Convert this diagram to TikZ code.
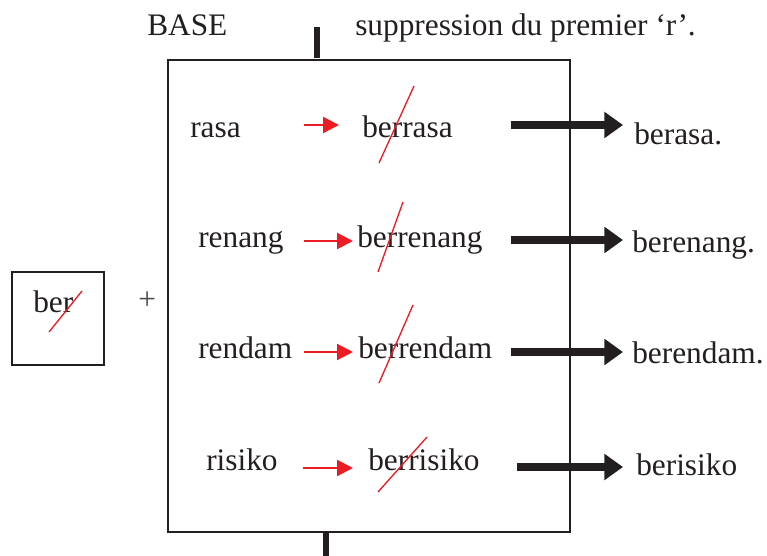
\documentclass[tikz,border=0pt]{standalone}
\usepackage{fontspec}
\setmainfont{Liberation Serif}
\usetikzlibrary{arrows.meta}
\definecolor{brred}{RGB}{237,28,36}
\definecolor{ink}{RGB}{35,31,32}
\begin{document}
\begin{tikzpicture}[x=0.75pt,y=-0.75pt,
  txt/.style={anchor=base west,inner sep=0pt,font=\fontsize{23.5}{28}\selectfont,text=ink},
  redarr/.style={draw=brred,line width=1.6pt,-{Triangle[length=12pt,width=12pt]}},
  bigarr/.style={draw=ink,line width=5.5pt,-{Triangle[length=14pt,width=19pt]}},
  strike/.style={draw=brred,line width=1pt},
  frame/.style={draw=ink,line width=2pt},
  tick/.style={draw=ink,line width=4.5pt}]
\useasboundingbox (0,0) rectangle (767,556);
% main box
\draw[frame] (168,60) rectangle (570,532);
\draw[tick] (317,27) -- (317,58);
\draw[tick] (326,533) -- (326,556);
% header
\node[txt] (base) at (147,36) {BASE};
\node[txt] (supp) at (355,36) {suppression du premier ‘r’.};
% left box
\draw[frame] (12,272) rectangle (104,365);
\node[txt] (ber) at (33,312) {ber};
\draw[strike] (49,332) -- (82,291);
\node[txt,text=black!70] (plus) at (138,309) {+};
% row 1
\node[txt] (w1) at (190,138) {rasa};
\node[txt] (b1) at (362,138) {berrasa};
\node[txt] (r1) at (634,145) {berasa.};
\draw[strike] (379,163) -- (414,86);
\coordinate (a1s) at (304,125); \coordinate (a1e) at (339,125);
\draw[redarr] (a1s) -- (a1e);
\coordinate (k1s) at (511,125); \coordinate (k1e) at (623,125);
\draw[bigarr] (k1s) -- (k1e);
% row 2
\node[txt] (w2) at (198,247) {renang};
\node[txt] (b2) at (357,247) {berrenang};
\node[txt] (r2) at (632,252) {berenang.};
\draw[strike] (378,272) -- (403,202);
\coordinate (a2s) at (304,241); \coordinate (a2e) at (353,241);
\draw[redarr] (a2s) -- (a2e);
\coordinate (k2s) at (511,240); \coordinate (k2e) at (623,240);
\draw[bigarr] (k2s) -- (k2e);
% row 3
\node[txt] (w3) at (198,358) {rendam};
\node[txt] (b3) at (358,358) {berrendam};
\node[txt] (r3) at (632,363) {berendam.};
\draw[strike] (379,383) -- (413,305);
\coordinate (a3s) at (304,352); \coordinate (a3e) at (353,352);
\draw[redarr] (a3s) -- (a3e);
\coordinate (k3s) at (511,352); \coordinate (k3e) at (623,352);
\draw[bigarr] (k3s) -- (k3e);
% row 4
\node[txt] (w4) at (206,470) {risiko};
\node[txt] (b4) at (368,470) {berrisiko};
\node[txt] (r4) at (636,475) {berisiko};
\draw[strike] (378,492) -- (427,437);
\coordinate (a4s) at (303,468); \coordinate (a4e) at (353,468);
\draw[redarr] (a4s) -- (a4e);
\coordinate (k4s) at (517,467); \coordinate (k4e) at (623,467);
\draw[bigarr] (k4s) -- (k4e);
\end{tikzpicture}
\end{document}
